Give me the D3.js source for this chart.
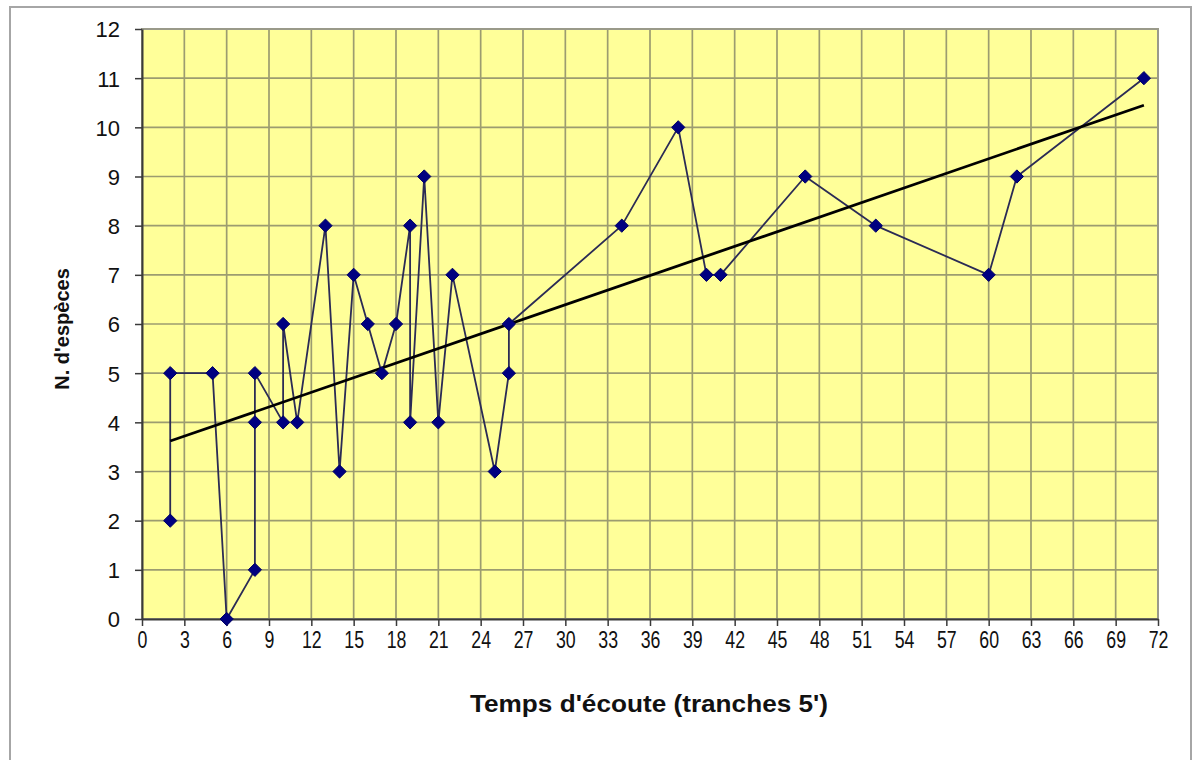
<!DOCTYPE html>
<html>
<head>
<meta charset="utf-8">
<script src="https://cdn.jsdelivr.net/npm/d3@7"></script>
<style>
  html, body { margin: 0; padding: 0; background: #ffffff; }
  svg { display: block; }
</style>
</head>
<body>
<svg id="chart" width="1198" height="760"></svg>
<script>
// ---- data ----
const timeSlots = [2, 2, 5, 6, 8, 8, 8, 10, 10, 11, 13, 14, 15, 16, 17, 18, 19, 19, 20, 21, 22, 25, 26, 26, 34, 38, 40, 41, 47, 52, 60, 62, 71];
const speciesCounts = [2, 5, 5, 0, 1, 4, 5, 4, 6, 4, 8, 3, 7, 6, 5, 6, 8, 4, 9, 4, 7, 3, 5, 6, 8, 10, 7, 7, 9, 8, 7, 9, 11];
const trendX = [2, 71];
const trendY = [3.62, 10.45];
const xTicks = [0, 3, 6, 9, 12, 15, 18, 21, 24, 27, 30, 33, 36, 39, 42, 45, 48, 51, 54, 57, 60, 63, 66, 69, 72];
const yTicks = [0, 1, 2, 3, 4, 5, 6, 7, 8, 9, 10, 11, 12];
const xTitle = "Temps d'écoute (tranches 5')";
const yTitle = "N. d'espèces";

(function () {
const points = timeSlots.map((t, i) => ({ x: t, y: speciesCounts[i] }));
const trend = trendX.map((t, i) => ({ x: t, y: trendY[i] }));

const svg = d3.select("#chart");

// outer frame
svg.append("rect")
  .attr("x", 10).attr("y", 7)
  .attr("width", 1181).attr("height", 780)
  .attr("fill", "#ffffff")
  .attr("stroke", "#a6a6a6").attr("stroke-width", 2);

const pL = 142, pR = 1158, pT = 29, pB = 619;
const x = d3.scaleLinear().domain([0, 72]).range([pL, pR]);
const y = d3.scaleLinear().domain([0, 12]).range([pB, pT]);

// plot background
svg.append("rect")
  .attr("x", pL).attr("y", pT)
  .attr("width", pR - pL).attr("height", pB - pT)
  .attr("fill", "#ffff99");

// grid
const grid = svg.append("g").attr("stroke", "#9c9c70").attr("stroke-width", 1.7);
grid.selectAll("line.v").data(xTicks.slice(1)).join("line")
  .attr("class", "v")
  .attr("x1", d => x(d)).attr("x2", d => x(d))
  .attr("y1", pT).attr("y2", pB);
grid.selectAll("line.h").data(yTicks.slice(1)).join("line")
  .attr("class", "h")
  .attr("x1", pL).attr("x2", pR)
  .attr("y1", d => y(d)).attr("y2", d => y(d));

// plot border (gray)
svg.append("rect")
  .attr("x", pL).attr("y", pT)
  .attr("width", pR - pL).attr("height", pB - pT)
  .attr("fill", "none")
  .attr("stroke", "#9a9a8a").attr("stroke-width", 2);

// axes
const xAxis = d3.axisBottom(x).tickValues(xTicks).tickSize(7).tickSizeOuter(0).tickFormat(d3.format("d"));
const yAxis = d3.axisLeft(y).tickValues(yTicks).tickSize(7).tickSizeOuter(0).tickFormat(d3.format("d"));

const gx = svg.append("g").attr("transform", `translate(0,${pB})`).call(xAxis);
gx.select(".domain").attr("stroke", "#3a3a3a").attr("stroke-width", 2);
gx.selectAll(".tick line").attr("stroke", "#3a3a3a").attr("stroke-width", 1.5);
gx.selectAll(".tick text")
  .attr("fill", "#111")
  .attr("font-family", "'Liberation Sans', Arial, sans-serif")
  .attr("font-size", 24)
  .attr("transform", "scale(0.74,1)")
  .attr("y", 12)
  .attr("dy", "0.71em");

const gy = svg.append("g").attr("transform", `translate(${pL},0)`).call(yAxis);
gy.select(".domain").attr("stroke", "#3a3a3a").attr("stroke-width", 2);
gy.selectAll(".tick line").attr("stroke", "#3a3a3a").attr("stroke-width", 1.5);
gy.selectAll(".tick text")
  .attr("fill", "#111")
  .attr("font-family", "'Liberation Sans', Arial, sans-serif")
  .attr("font-size", 22)
  .attr("x", -22)
  .attr("dy", "0.36em");

// data line
const line = d3.line().x(d => x(d.x)).y(d => y(d.y));
svg.append("path")
  .datum(points)
  .attr("d", line)
  .attr("fill", "none")
  .attr("stroke", "#2b2b55")
  .attr("stroke-width", 1.8)
  .attr("stroke-linejoin", "round");

// trend line
svg.append("path")
  .datum(trend)
  .attr("d", line)
  .attr("fill", "none")
  .attr("stroke", "#000000")
  .attr("stroke-width", 2.8);

// markers (square diamond, like Excel's)
const squareDiamond = {
  draw(ctx, size) {
    const r = Math.sqrt(size / 2);
    ctx.moveTo(0, -r); ctx.lineTo(r, 0); ctx.lineTo(0, r); ctx.lineTo(-r, 0); ctx.closePath();
  }
};
const diamond = d3.symbol().type(squareDiamond).size(88);
svg.append("g").selectAll("path").data(points).join("path")
  .attr("transform", d => `translate(${x(d.x)},${y(d.y)})`)
  .attr("d", diamond)
  .attr("fill", "#000080")
  .attr("stroke", "#000066")
  .attr("stroke-width", 1);

// titles
svg.append("text")
  .attr("x", 649).attr("y", 712)
  .attr("text-anchor", "middle")
  .attr("font-family", "'Liberation Sans', Arial, sans-serif")
  .attr("font-weight", "bold")
  .attr("font-size", 24)
  .attr("fill", "#111")
  .attr("textLength", 358)
  .attr("lengthAdjust", "spacingAndGlyphs")
  .text(xTitle);

svg.append("text")
  .attr("transform", "translate(69,329) rotate(-90)")
  .attr("text-anchor", "middle")
  .attr("font-family", "'Liberation Sans', Arial, sans-serif")
  .attr("font-weight", "bold")
  .attr("font-size", 20)
  .attr("fill", "#111")
  .text(yTitle);
})();
</script>
</body>
</html>
